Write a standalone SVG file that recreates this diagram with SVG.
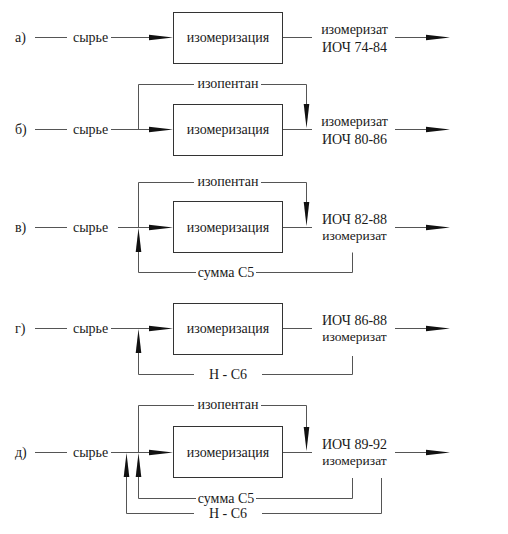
<svg xmlns="http://www.w3.org/2000/svg" width="508" height="534" viewBox="0 0 508 534" font-family="'Liberation Serif', 'DejaVu Serif', serif" font-size="14">
<defs>
<style>
text{font-family:'Liberation Serif','DejaVu Serif',serif;font-size:14px;fill:#1a1a1a}
.c{text-anchor:middle}
.sm{font-size:13.5px}
.ln{fill:none;stroke:#555;stroke-width:1}
.box{fill:#fff;stroke:#333;stroke-width:1}
.ah{fill:#111}
</style>
<polygon id="ah" class="ah" points="-24,-2.8 0,0 -24,2.8"/>
</defs>
<rect width="508" height="534" fill="#fff"/>

<g id="connectors">
<!-- а -->
<path class="ln" d="M35 37.5H67 M111 37.5H160 M283 37.5H312 M395 37.5H440"/>
<use href="#ah" transform="translate(173,37.5)"/>
<use href="#ah" transform="translate(450,37.5)"/>
<!-- б -->
<path class="ln" d="M35 129.5H67 M111 129.5H160 M283 129.5H312 M395 129.5H440"/>
<path class="ln" d="M138.5 129.5V84.5H194 M261 84.5H306.5V115"/>
<use href="#ah" transform="translate(173,129.5)"/>
<use href="#ah" transform="translate(450,129.5)"/>
<use href="#ah" transform="translate(306.5,128) rotate(90)"/>
<!-- в -->
<path class="ln" d="M35 227.5H67 M118 227.5H160 M283 227.5H312 M395 227.5H440"/>
<path class="ln" d="M138.5 227.5V182.5H194 M261 182.5H306.5V213"/>
<path class="ln" d="M138.5 240V272.5H196 M256 272.5H352.5V252.5"/>
<use href="#ah" transform="translate(173,227.5)"/>
<use href="#ah" transform="translate(450,227.5)"/>
<use href="#ah" transform="translate(306.5,226) rotate(90)"/>
<use href="#ah" transform="translate(138.5,228) rotate(-90)"/>
<!-- г -->
<path class="ln" d="M35 328.5H67 M111 328.5H160 M283 328.5H312 M395 328.5H440"/>
<path class="ln" d="M138.5 340V374.5H194 M262 374.5H352.5V356"/>
<use href="#ah" transform="translate(173,328.5)"/>
<use href="#ah" transform="translate(450,328.5)"/>
<use href="#ah" transform="translate(138.5,329) rotate(-90)"/>
<!-- д -->
<path class="ln" d="M35 452.5H67 M111 452.5H160 M283 452.5H312 M395 452.5H440"/>
<path class="ln" d="M138.5 452.5V405.5H194 M261 405.5H306.5V438"/>
<path class="ln" d="M138.5 465V498.5H196 M256 498.5H352.5V478"/>
<path class="ln" d="M126.5 465V513.5H194 M262 513.5H381.5V478"/>
<use href="#ah" transform="translate(173,452.5)"/>
<use href="#ah" transform="translate(450,452.5)"/>
<use href="#ah" transform="translate(306.5,451) rotate(90)"/>
<use href="#ah" transform="translate(138.5,453) rotate(-90)"/>
<use href="#ah" transform="translate(126.5,453) rotate(-90)"/>
</g>

<g id="row-a">
<text x="15" y="42">а)</text>
<text x="73" y="41.5">сырье</text>
<g id="node-a"><rect class="box" x="173.5" y="12.5" width="109" height="51"/><text class="c" x="228" y="41.5">изомеризация</text></g>
<text class="c" x="354.5" y="34">изомеризат</text>
<text class="c" x="354.5" y="51.5">ИОЧ 74-84</text>
</g>

<g id="row-b">
<text x="15" y="134">б)</text>
<text x="73" y="133.5">сырье</text>
<text class="c" x="228" y="88">изопентан</text>
<g id="node-b"><rect class="box" x="173.5" y="104.5" width="109" height="51"/><text class="c" x="228" y="133.5">изомеризация</text></g>
<text class="c" x="354.5" y="126">изомеризат</text>
<text class="c" x="354.5" y="144">ИОЧ 80-86</text>
</g>

<g id="row-v">
<text x="15" y="232">в)</text>
<text x="73" y="231.5">сырье</text>
<text class="c" x="228" y="186">изопентан</text>
<g id="node-v"><rect class="box" x="173.5" y="201.5" width="109" height="51"/><text class="c" x="228" y="231.5">изомеризация</text></g>
<text class="c" x="354.5" y="224">ИОЧ 82-88</text>
<text class="c sm" x="354.5" y="239.5">изомеризат</text>
<text class="c" x="226" y="277">сумма С5</text>
</g>

<g id="row-g">
<text x="15" y="333">г)</text>
<text x="73" y="332.5">сырье</text>
<g id="node-g"><rect class="box" x="173.5" y="303.5" width="109" height="51"/><text class="c" x="228" y="332.5">изомеризация</text></g>
<text class="c" x="354.5" y="325">ИОЧ 86-88</text>
<text class="c sm" x="354.5" y="340.5">изомеризат</text>
<text class="c" x="228" y="379">Н - С6</text>
</g>

<g id="row-d">
<text x="15" y="457">д)</text>
<text x="73" y="456.5">сырье</text>
<text class="c" x="228" y="409">изопентан</text>
<g id="node-d"><rect class="box" x="173.5" y="426.5" width="109" height="51"/><text class="c" x="228" y="456.5">изомеризация</text></g>
<text class="c" x="354.5" y="449">ИОЧ 89-92</text>
<text class="c sm" x="354.5" y="464.5">изомеризат</text>
<text class="c" x="226" y="503">сумма С5</text>
<text class="c" x="228" y="518">Н - С6</text>
</g>
</svg>
